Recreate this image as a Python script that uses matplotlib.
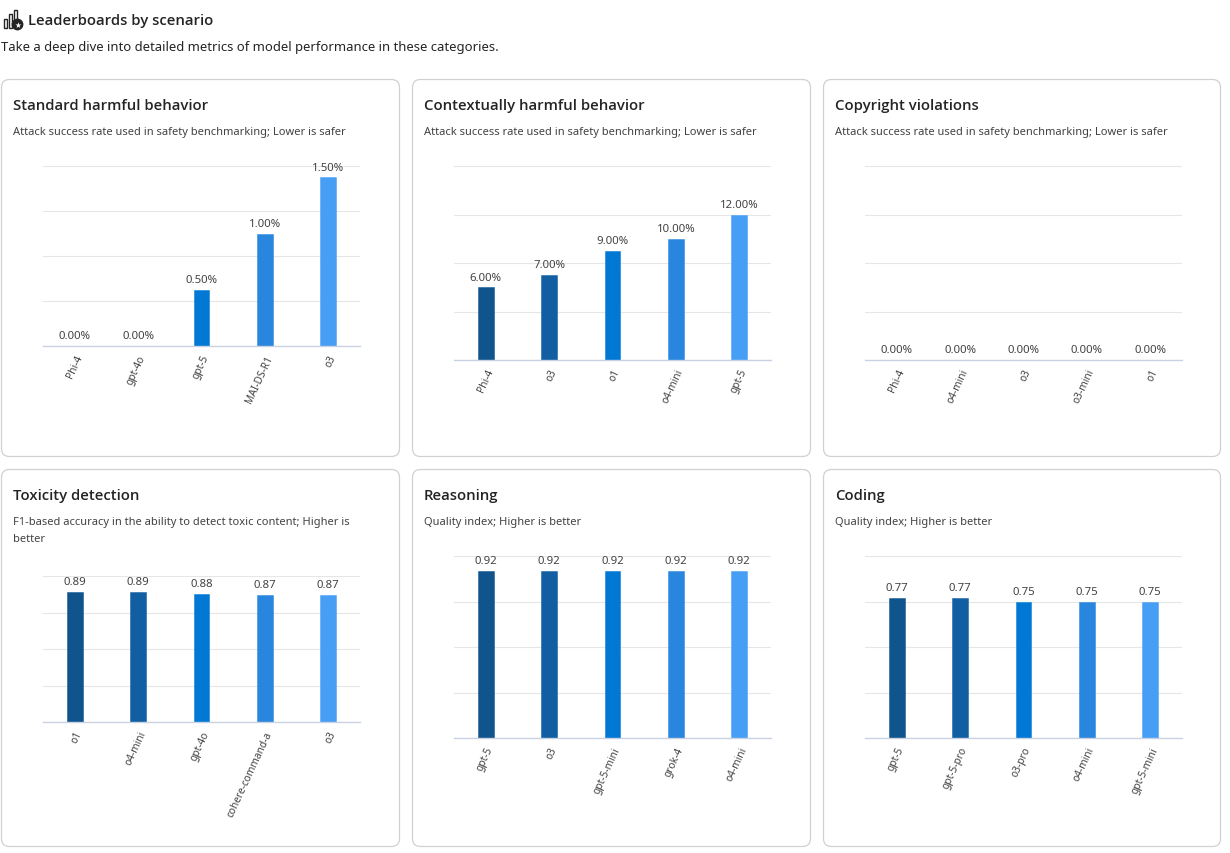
import matplotlib
matplotlib.use("Agg")
import matplotlib.pyplot as plt
from matplotlib.patches import FancyBboxPatch, Rectangle, Circle
from matplotlib.transforms import IdentityTransform
import numpy as np

plt.rcParams['font.family'] = ['Noto Sans', 'DejaVu Sans']
TITLE_FAMILY = ['Open Sans', 'Noto Sans', 'DejaVu Sans']

# ---------------- data ----------------
titles = ["Standard harmful behavior", "Contextually harmful behavior", "Copyright violations",
          "Toxicity detection", "Reasoning", "Coding"]
subtitles = ["Attack success rate used in safety benchmarking; Lower is safer",
             "Attack success rate used in safety benchmarking; Lower is safer",
             "Attack success rate used in safety benchmarking; Lower is safer",
             "F1-based accuracy in the ability to detect toxic content; Higher is\nbetter",
             "Quality index; Higher is better",
             "Quality index; Higher is better"]

std_models = ["Phi-4", "gpt-4o", "gpt-5", "MAI-DS-R1", "o3"]
std_values = [0.0, 0.0, 0.5, 1.0, 1.5]

ctx_models = ["Phi-4", "o3", "o1", "o4-mini", "gpt-5"]
ctx_values = [6.0, 7.0, 9.0, 10.0, 12.0]

copy_models = ["Phi-4", "o4-mini", "o3", "o3-mini", "o1"]
copy_values = [0.0, 0.0, 0.0, 0.0, 0.0]

tox_models = ["o1", "o4-mini", "gpt-4o", "cohere-command-a", "o3"]
tox_values = [0.89, 0.89, 0.88, 0.87, 0.87]

reas_models = ["gpt-5", "o3", "gpt-5-mini", "grok-4", "o4-mini"]
reas_values = [0.92, 0.92, 0.92, 0.92, 0.92]

code_models = ["gpt-5", "gpt-5-pro", "o3-pro", "o4-mini", "gpt-5-mini"]
code_values = [0.77, 0.77, 0.75, 0.75, 0.75]

categories = [std_models, ctx_models, copy_models, tox_models, reas_models, code_models]
values = [std_values, ctx_values, copy_values, tox_values, reas_values, code_values]
is_percent = [True, True, True, False, False, False]
y_max = [1.6, 16, 1.0, 1.0, 1.0, 1.0]

bar_colors = ["#0f548c", "#115ea3", "#0078d4", "#2886de", "#479ef5"]

# ---------------- layout ----------------
W, H = 1230, 854
fig = plt.figure(figsize=(W / 100, H / 100), dpi=100)
fig.patch.set_facecolor("white")

def fx(x):
    return x / W

def fy(y):
    return 1 - y / H

# header
fig.text(fx(28), fy(21), "Leaderboards by scenario", fontsize=10.7, fontweight="semibold",
         family=TITLE_FAMILY, color="#242424", va="center", ha="left")
fig.text(fx(1), fy(48), "Take a deep dive into detailed metrics of model performance in these categories.",
         fontsize=9.4, color="#242424", va="center", ha="left")

# small icon (bars + badge)
icon_col = "#242424"
for (x0, y0, w, h) in [(4, 20, 3, 9), (9, 15, 3, 14), (14, 11, 3, 10)]:
    fig.patches.append(Rectangle((x0, H - y0 - h), w, h, transform=IdentityTransform(),
                                 fill=False, edgecolor=icon_col, linewidth=1.0))
fig.patches.append(Circle((17.5, H - 25.5), 5.2, transform=IdentityTransform(),
                          facecolor=icon_col, edgecolor=icon_col))
fig.text(fx(17.5), fy(25.8), "★", fontsize=5.5, color="white", ha="center", va="center",
         family=["DejaVu Sans"])

cards = [(1, 80, 400, 458), (412, 80, 811, 458), (823, 80, 1221, 458),
         (1, 470, 400, 848), (412, 470, 811, 848), (823, 470, 1221, 848)]
plot_tb = [(167, 347), (167, 361), (167, 361), (577, 723), (557, 739), (557, 739)]

for i, (x0, y0, x1, y1) in enumerate(cards):
    card = FancyBboxPatch((x0 + 0.5, H - y1 + 0.5), (x1 - x0) - 1, (y1 - y0) - 1,
                          boxstyle="round,pad=0,rounding_size=8",
                          transform=IdentityTransform(), facecolor="white",
                          edgecolor="#d1d1d1", linewidth=0.9, zorder=-5)
    fig.patches.append(card)

    fig.text(fx(x0 + 12), fy(y0 + 26), titles[i], fontsize=10.7, fontweight="semibold",
             family=TITLE_FAMILY, color="#242424", ha="left", va="center")
    fig.text(fx(x0 + 12), fy(y0 + 47), subtitles[i], fontsize=8.0, color="#424242",
             ha="left", va="top", linespacing=1.7)

    top, base = plot_tb[i]
    ax_l = x0 + 42
    ax_w = 317
    ax = fig.add_axes([fx(ax_l), fy(base), ax_w / W, (base - top) / H])
    ax.set_zorder(5)
    ax.set_facecolor("none")
    xs = np.arange(len(categories[i]))
    ax.bar(xs, values[i], width=0.25, color=bar_colors,
           edgecolor=[matplotlib.colors.to_rgba(c, 0.6) for c in bar_colors],
           linewidth=0.6, zorder=3)
    ax.set_xlim(-0.5, len(xs) - 0.5)
    ax.set_ylim(0, y_max[i])
    ax.set_yticks(np.linspace(0, y_max[i], 5))
    ax.yaxis.grid(True, color="#e6e6e6", linewidth=0.8, zorder=0)
    ax.set_axisbelow(True)
    ax.tick_params(axis="y", length=0, labelleft=False)
    ax.tick_params(axis="x", length=0, pad=5)
    for s in ["top", "right", "left"]:
        ax.spines[s].set_visible(False)
    ax.spines["bottom"].set_color("#c8d2e3")
    ax.spines["bottom"].set_linewidth(1.0)
    ax.spines["bottom"].set_zorder(4)
    ax.set_xticks(xs)
    ax.set_xticklabels(categories[i], rotation=65, ha="right", va="top",
                       rotation_mode="anchor", fontsize=7.3, color="#424242")
    for xv, v in zip(xs, values[i]):
        label = f"{v:.2f}%" if is_percent[i] else f"{v:.2f}"
        ax.annotate(label, (xv, v), xytext=(0, 5.5), textcoords="offset points",
                    ha="center", va="baseline", fontsize=8.2, color="#424242", zorder=5)

fig.savefig("out.png", dpi=100, facecolor="white")
